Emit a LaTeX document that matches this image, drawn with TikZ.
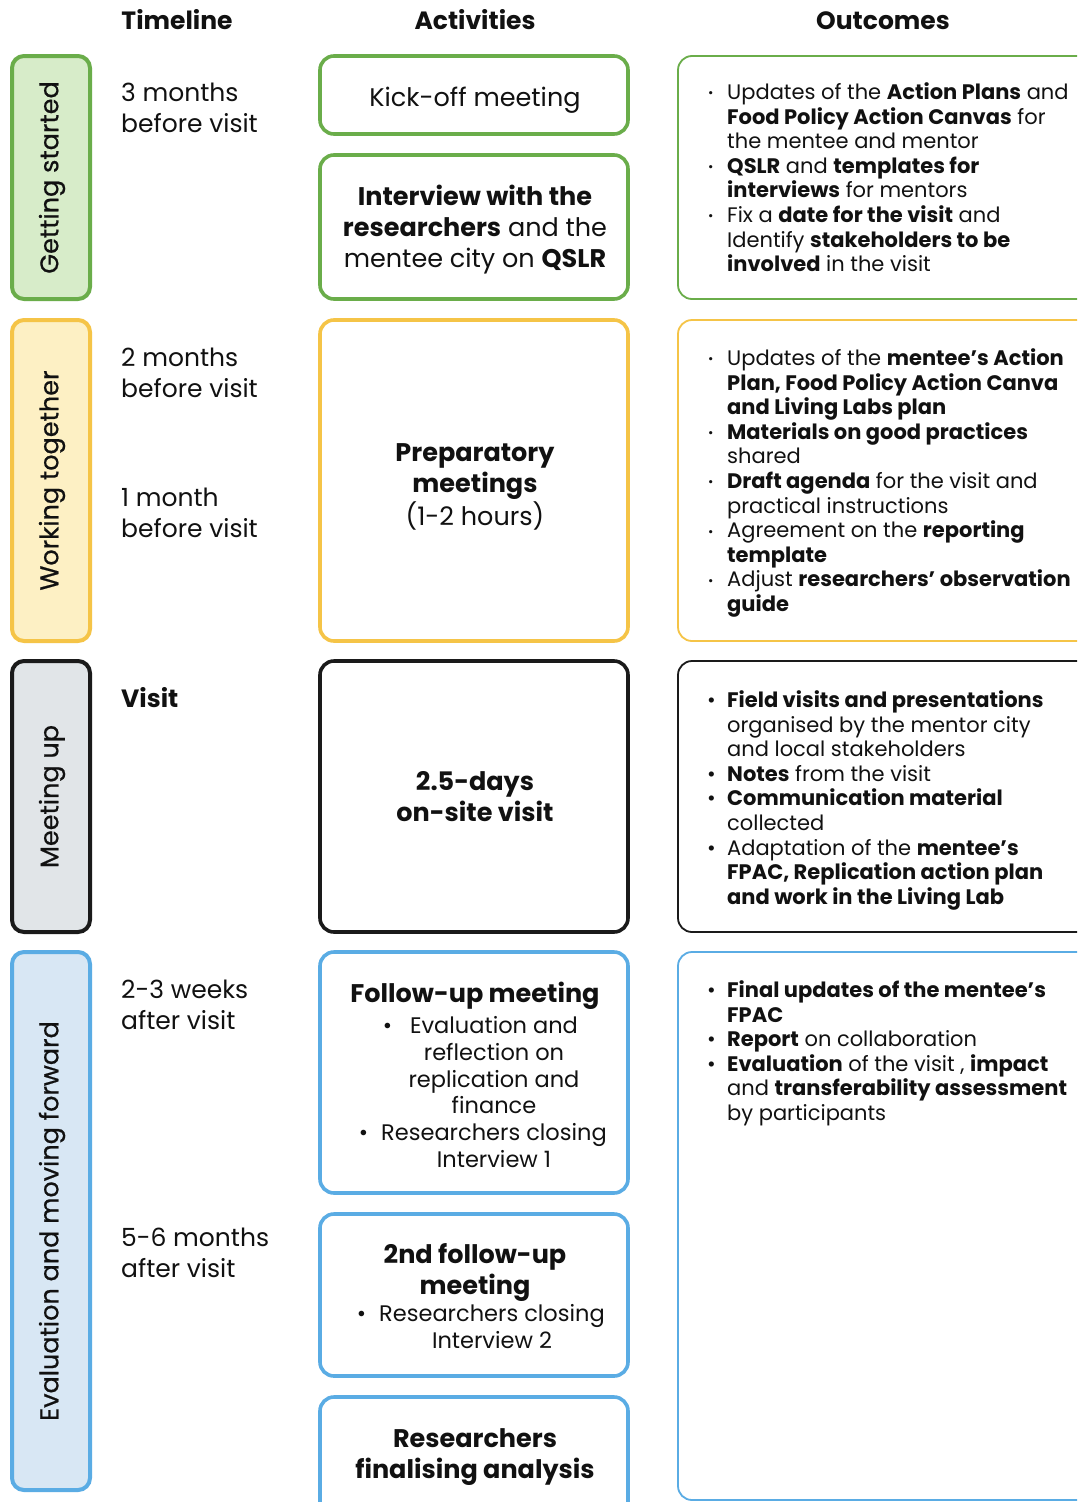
\documentclass[tikz,border=0pt]{standalone}
\usepackage{fontspec}
\setmainfont{Poppins}
\newfontfamily\medfont[FakeBold=0.6]{Poppins}
\definecolor{gline}{HTML}{6AAD4A}
\definecolor{gfill}{HTML}{D7ECC9}
\definecolor{yline}{HTML}{F5C447}
\definecolor{yfill}{HTML}{FDF0C4}
\definecolor{kline}{HTML}{1A1A1A}
\definecolor{kfill}{HTML}{E1E5E8}
\definecolor{bline}{HTML}{5AACE4}
\definecolor{bfill}{HTML}{D8E7F4}
\definecolor{txt}{HTML}{111111}
\newcommand\sdot{\raisebox{1.5pt}{\fontsize{13}{13}\selectfont •}}
\begin{document}
\begin{tikzpicture}[x=1pt,y=-1pt,
  box/.style={anchor=north west, inner sep=0pt, outer sep=0pt},
  phase/.style={box, line width=4pt, rounded corners=12pt},
  act/.style={box, line width=3.6pt, rounded corners=14pt, fill=white},
  outc/.style={box, line width=1.8pt, rounded corners=14pt, fill=white},
  head/.style={anchor=base, font=\fontsize{25}{30}\selectfont\bfseries, text=txt},
  plabel/.style={rotate=90, font=\fontsize{25.5}{30}\selectfont\medfont, text=txt},
  tline/.style={anchor=base west, inner sep=0pt, font=\fontsize{25}{31}\selectfont, text=txt},
  atext/.style={anchor=base, inner sep=0pt, font=\fontsize{25.5}{31}\selectfont, text=txt},
  abody/.style={anchor=base, inner sep=0pt, font=\fontsize{22.5}{26.8}\selectfont, text=txt},
  otext/.style={anchor=north west, inner sep=0pt, font=\fontsize{21}{24.6}\selectfont, text=txt},
]
\useasboundingbox (0,0) rectangle (1077,1502);
\clip (0,0) rectangle (1077,1502);
\fill[white] (0,0) rectangle (1077,1502);

% headers
\node[head] (hT) at (177,29) {Timeline};
\node[head] (hA) at (475,29) {Activities};
\node[head] (hO) at (883,29) {Outcomes};

% phase boxes
\node[phase, draw=gline, fill=gfill, minimum width=78pt, minimum height=243pt] (p1) at (12,56) {};
\node[phase, draw=yline, fill=yfill, minimum width=78pt, minimum height=321pt] (p2) at (12,320) {};
\node[phase, draw=kline, fill=kfill, minimum width=78pt, minimum height=271pt] (p3) at (12,661) {};
\node[phase, draw=bline, fill=bfill, minimum width=78pt, minimum height=538pt] (p4) at (12,952) {};
\node[plabel] (l1) at ([xshift=1pt]p1.center) {Getting started};
\node[plabel] (l2) at ([xshift=1pt]p2.center) {Working together};
\node[plabel] (l3) at ([xshift=1pt]p3.center) {Meeting up};
\node[plabel] (l4) at ([xshift=1pt]p4.center) {Evaluation and moving forward};

% timeline
\node[tline] (t1) at (121,101.5) {\begin{tabular}[t]{@{}l@{}}3 months\\ before visit\end{tabular}};
\node[tline] (t2) at (121,366.5) {\begin{tabular}[t]{@{}l@{}}2 months\\ before visit\end{tabular}};
\node[tline] (t3) at (121,506.5) {\begin{tabular}[t]{@{}l@{}}1 month\\ before visit\end{tabular}};
\node[tline] (t4) at (121,707.5) {\textbf{Visit}};
\node[tline] (t5) at (121,998.5) {\begin{tabular}[t]{@{}l@{}}2-3 weeks\\ after visit\end{tabular}};
\node[tline] (t6) at (121,1246.5) {\begin{tabular}[t]{@{}l@{}}5-6 months\\ after visit\end{tabular}};

% activity boxes
\node[act, draw=gline, minimum width=308pt, minimum height=78pt] (a1) at (320,56) {};
\node[act, draw=gline, minimum width=308pt, minimum height=144pt] (a2) at (320,155) {};
\node[act, draw=yline, minimum width=308pt, minimum height=321pt] (a3) at (320,320) {};
\node[act, draw=kline, minimum width=308pt, minimum height=271pt] (a4) at (320,661) {};
\node[act, draw=bline, minimum width=308pt, minimum height=241pt] (a5) at (320,952) {};
\node[act, draw=bline, minimum width=308pt, minimum height=162pt] (a6) at (320,1214) {};
\node[act, draw=bline, minimum width=308pt, minimum height=140pt] (a7) at (320,1397) {};

\node[atext] (at1) at (475,106) {Kick-off meeting};
\node[atext] (at2) at (475,205.5) {\begin{tabular}[t]{@{}c@{}}\textbf{Interview with the}\\ \textbf{researchers} and the\\ mentee city on \textbf{QSLR}\end{tabular}};
\node[atext] (at3) at (475,461.5) {\begin{tabular}[t]{@{}c@{}}\textbf{Preparatory}\\ \textbf{meetings}\\ (1-2 hours)\end{tabular}};
\node[atext] (at4) at (475,790) {\begin{tabular}[t]{@{}c@{}}\textbf{2.5-days}\\ \textbf{on-site visit}\end{tabular}};
\node[atext] (at5) at (475,1002.5) {\textbf{Follow-up meeting}};
\node[abody] (at5b) at (494,1033.5) {\begin{tabular}[t]{@{}c@{}}\llap{•\hspace{18pt}}Evaluation and\\ reflection on\\ replication and\\ finance\\ \llap{•\hspace{13pt}}Researchers closing\\ Interview 1\end{tabular}};
\node[atext] (at6) at (475,1263.5) {\begin{tabular}[t]{@{}c@{}}\textbf{2nd follow-up}\\ \textbf{meeting}\end{tabular}};
\node[abody] (at6b) at (492,1321.5) {\begin{tabular}[t]{@{}c@{}}\llap{•\hspace{13pt}}Researchers closing\\ Interview 2\end{tabular}};
\node[atext] (at7) at (475,1447.5) {\begin{tabular}[t]{@{}c@{}}\textbf{Researchers}\\ \textbf{finalising analysis}\end{tabular}};

% outcome boxes
\node[outc, draw=gline, minimum width=440pt, minimum height=243pt] (o1) at (678,56) {};
\node[outc, draw=yline, minimum width=440pt, minimum height=321pt] (o2) at (678,320) {};
\node[outc, draw=kline, minimum width=440pt, minimum height=271pt] (o3) at (678,661) {};
\node[outc, draw=bline, minimum width=440pt, minimum height=548pt] (o4) at (678,952) {};

\node[otext] (ot1) at (705,82) {\begin{tabular}{@{}p{22pt}@{}l@{}}
\hspace{3pt}\sdot& Updates of the \textbf{Action Plans} and\\
& \textbf{Food Policy Action Canvas} for\\
& the mentee and mentor\\
\hspace{3pt}\sdot& \textbf{QSLR} and \textbf{templates for}\\
& \textbf{interviews} for mentors\\
\hspace{3pt}\sdot& Fix a \textbf{date for the visit} and\\
& Identify \textbf{stakeholders to be}\\
& \textbf{involved} in the visit
\end{tabular}};
\node[otext] (ot2) at (705,348) {\begin{tabular}{@{}p{22pt}@{}l@{}}
\hspace{3pt}\sdot& Updates of the \textbf{mentee’s Action}\\
& \textbf{Plan, Food Policy Action Canva}\\
& \textbf{and Living Labs plan}\\
\hspace{3pt}\sdot& \textbf{Materials on good practices}\\
& shared\\
\hspace{3pt}\sdot& \textbf{Draft agenda} for the visit and\\
& practical instructions\\
\hspace{3pt}\sdot& Agreement on the \textbf{reporting}\\
& \textbf{template}\\
\hspace{3pt}\sdot& Adjust \textbf{researchers’ observation}\\
& \textbf{guide}
\end{tabular}};
\node[otext] (ot3) at (705,690) {\begin{tabular}{@{}p{22pt}@{}l@{}}
\hspace{2pt}•& \textbf{Field visits and presentations}\\
& organised by the mentor city\\
& and local stakeholders\\
\hspace{2pt}•& \textbf{Notes} from the visit\\
\hspace{2pt}•& \textbf{Communication material}\\
& collected\\
\hspace{2pt}•& Adaptation of the \textbf{mentee’s}\\
& \textbf{FPAC, Replication action plan}\\
& \textbf{and work in the Living Lab}
\end{tabular}};
\node[otext] (ot4) at (705,980) {\begin{tabular}{@{}p{22pt}@{}l@{}}
\hspace{2pt}•& \textbf{Final updates of the mentee’s}\\
& \textbf{FPAC}\\
\hspace{2pt}•& \textbf{Report} on collaboration\\
\hspace{2pt}•& \textbf{Evaluation} of the visit , \textbf{impact}\\
& and \textbf{transferability assessment}\\
& by participants
\end{tabular}};
\end{tikzpicture}
\end{document}
